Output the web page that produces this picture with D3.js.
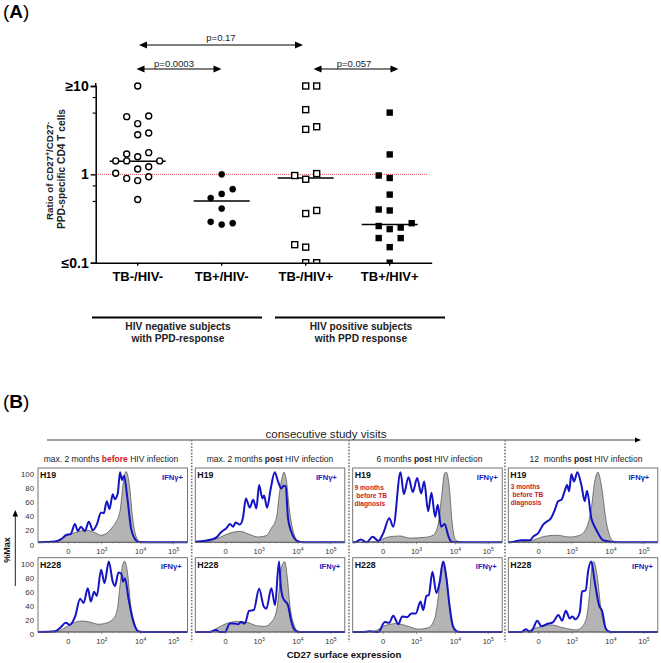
<!DOCTYPE html>
<html>
<head>
<meta charset="utf-8">
<title>CD27 ratio and histograms</title>
<script src="https://cdnjs.cloudflare.com/ajax/libs/d3/7.8.5/d3.min.js"></script>
<style>
  html, body { margin: 0; padding: 0; background: #fff; }
  svg { display: block; font-family: "Liberation Sans", Arial, sans-serif; }
</style>
</head>
<body>
<svg id="chart" width="661" height="663"></svg>
<script>
// Panel A values
var groupNames = ['TB-/HIV-', 'TB+/HIV-', 'TB-/HIV+', 'TB+/HIV+']
var ratioTicks = [0.1, 1, 10]
var ratioTickLabels = ['≤0.1', '1', '≥10']
var ratioMinorTicks = [0.5, 0.75, 5, 7.5]

var tbNegHivNegValues = [10, 4.5, 4.57, 3.75, 2.81, 2.94, 1.7, 1.58, 1.76, 1.42, 1.42, 1.42, 1.22, 1.15, 1.03, 0.9, 0.94, 0.85, 0.52]
var tbNegHivNegSlots = [0, -1, 1, 0, 0, 1, -1, 0, 1, -2, -1, 2, 1, 0, -2, -1, 1, 0, 0]
var tbPosHivNegValues = [1, 0.68, 0.6, 0.54, 0.41, 0.29, 0.27, 0.28]
var tbPosHivNegSlots = [0, 1, 0, -1, 0, -1, 0, 1]
var tbNegHivPosValues = [10, 10, 5.4, 3.46, 3.23, 0.97, 1.02, 0.88, 0.39, 0.36, 0.16, 0.15, 0.1, 0.1]
var tbNegHivPosSlots = [0, 1, 0, 1, 0, -1, 1, 0, 1, 0, -1, 0, 0, 1]
var tbPosHivPosValues = [5, 1.68, 0.97, 0.91, 0.59, 0.4, 0.39, 0.28, 0.26, 0.24, 0.25, 0.19, 0.19, 0.15, 0.1]
var tbPosHivPosSlots = [0, 0, -1, 0, 0, -1, 0, 2, -1, 0, 1, -1, 1, 0, 0]
var groupMedians = [1.41, 0.5, 0.91, 0.27]

// Panel B histograms: [channel, % of max], channels run 0-150 along the axis
var visitTitles = [
  [['max. 2 months ', 'normal', '#222'], ['before', 'bold', '#c8202c'], [' HIV infection', 'normal', '#222']],
  [['max. 2 months ', 'normal', '#222'], ['post', 'bold', '#222'], [' HIV infection', 'normal', '#222']],
  [['6 months ', 'normal', '#222'], ['post', 'bold', '#222'], [' HIV infection', 'normal', '#222']],
  [['12  months ', 'normal', '#222'], ['post', 'bold', '#222'], [' HIV infection', 'normal', '#222']]
]
var percentTicks = [0, 20, 40, 60, 80, 100]
var channelTicks = [30, 63.5, 102.5, 135.5]
var channelTickLabels = [['0', ''], ['10', '3'], ['10', '4'], ['10', '5']]
var channelMinorTicks = [10, 15, 20, 24, 36, 41, 45, 48, 51, 53, 55, 57, 59, 61, 74, 81, 86, 90, 93, 96, 98, 100, 113, 120, 125, 128, 130, 132, 133, 134]

var grayH19V1 = [[0,0],[10,0],[17,1],[22,4],[28,9],[38,14],[49,17],[58,13],[63,10],[68,12],[75,22],[78.3,29],[82.3,44],[85.7,86],[88.3,100],[91.7,81],[95,34],[98,10],[102,1],[110,0]]
var blueH19V1 = [[0,0],[17,1],[23,4],[28,10],[33,12],[37,26],[40,16],[43,22],[47,16],[51,29],[55,17],[59,25],[63.3,42],[66,41],[69,58],[71.7,47],[75,68],[77,61],[80,69],[82.3,99],[84.3,88],[86.3,94],[89.7,62],[93.3,20],[96.7,6],[100,1],[105,0],[150,0]]
var grayH228V1 = [[0,0],[17,0],[25.7,5],[34,12],[44,15.5],[52,14],[60.7,11],[67,12],[75.7,19],[79.7,33],[82.3,66],[85,95],[87,100],[89.7,85],[93,38],[96.3,15],[100.7,1],[110,0]]
var blueH228V1 = [[0,0],[17,1],[22.3,6],[28,13],[31.7,10],[37.3,22],[42.3,47],[45.7,41],[50,62],[53,43],[56.3,57],[59,51],[63.3,88],[66.7,69],[71,99.5],[75,71],[77.3,65],[80.7,84],[83.7,82],[85.3,71],[87.3,76],[90.7,48],[94,24],[97.3,8],[100.7,1],[105,0],[150,0]]

var grayH19V2 = [[0,0],[11,1],[21.3,5],[34.7,13],[45,15.5],[54.7,11],[63,7.5],[71.3,9.5],[76.3,20],[81.3,34],[84.7,72],[87.3,93],[89,99],[91.3,88],[94.7,43],[98,17],[103,2],[110,0]]
var blueH19V2 = [[0,0],[1.3,1],[8,2],[16.3,4],[21.3,7],[26.3,15],[31.3,20],[34.7,26],[38,22],[40.3,28],[44.7,25],[48,36],[50.7,62],[54.7,49],[58,60],[61.3,48],[64,81],[67.3,62],[69,66],[72,49],[75.7,76],[79.7,99],[83,86],[86.3,76],[88.7,80],[90.7,79],[93,34],[96.3,15],[99.7,5],[103.7,1],[108,0],[150,0]]
var grayH228V2 = [[0,0],[16,1],[21.3,5],[31.3,12],[43,15],[51.3,14],[61.3,9],[69.7,8],[76.3,14],[81.3,29],[84,57],[86.3,90],[89.7,99.5],[92,81],[95.3,33],[98.7,12],[103,1],[110,0]]
var blueH228V2 = [[0,0],[14.7,0],[20.7,3],[24.7,0],[29.7,0],[34.7,12],[38.8,12],[43,11],[46,14],[49.7,12],[54,30],[58.7,31],[64,61],[68.7,36],[71.3,33],[76.3,62],[80,38],[84,99.5],[85.7,66],[88,48],[93,38],[96.3,15],[99.7,3],[103,0.5],[108,0],[150,0]]

var grayH19V3 = [[0,0],[24,1],[34,7],[47.3,9],[57.3,6],[72.3,7],[80.7,10],[85.7,25],[89,62],[92.3,98],[94,99],[96.7,81],[100,25],[103.3,3],[110,0]]
var blueH19V3 = [[0,0],[2.3,0],[8,4],[14,0],[20,8],[25.7,2],[30.7,13],[36.7,34],[40.7,22],[48,99],[51.3,68],[56,92],[60.3,71],[64.7,91],[68.7,69],[71.7,86],[75.7,44],[79,70],[82.7,36],[85.3,53],[88.7,22],[92.3,26],[95.7,10],[99,1],[104,0],[150,0]]
var grayH228V3 = [[0,0],[20.7,1],[32.3,9],[44,12],[55.7,8],[65.7,4],[75.7,6],[82.3,19],[85.7,48],[89,90],[91.3,99.5],[94,81],[97.3,33],[100.7,5],[104,0],[110,0]]
var blueH228V3 = [[0,0],[10,0],[16.7,1],[25.7,0],[32.3,14],[36.7,13],[40.7,23],[45.7,11],[49.7,22],[54.7,21],[59,26],[63.3,26],[68,43],[70.7,31],[74,51],[76.3,52],[80,85],[84,55],[87.3,71],[90.7,99.5],[94,76],[97.3,36],[100.7,8],[105.7,0.5],[110,0],[150,0]]

var grayH19V4 = [[0,0],[21.7,2],[35,8],[48.3,10],[61.7,7.5],[71.7,10],[78.3,20],[83.3,48],[86.7,86],[90,99],[93.3,81],[98.3,29],[105,2],[112,0]]
var blueH19V4 = [[0,0],[2,0],[13.3,3],[21.7,3],[25,8],[30,13],[35,25],[38.3,29],[42.3,33],[46.7,46],[50,58],[53.3,60],[56.7,73],[59,81],[61,72],[63.3,96],[66,86],[69.3,99],[73.3,81],[76.7,58],[79,73],[83.3,34],[86.7,22],[90,13],[95,3],[101.7,1],[106,0],[150,0]]
var grayH228V4 = [[0,0],[18,1],[28.3,6],[43.3,10],[55,6],[68.3,3],[75,9],[79,24],[81.7,57],[84.3,97],[85.7,99.5],[89,81],[93.3,29],[96.7,8],[101.7,0.5],[108,0]]
var blueH228V4 = [[0,0],[13.3,0],[17.7,4],[21.7,0],[25,5],[29,16],[33.3,8],[38.3,11],[45,14],[50.3,24],[54,16],[57.7,30],[61.7,19],[64.3,22],[67.3,18],[71.7,28],[74,57],[77.7,59],[80,85],[83.3,99.5],[86.7,71],[91,38],[94.3,29],[97.7,5],[101.7,0.5],[106,0],[150,0]]

var svg = d3.select('#chart')

function panelLetter(letter, y) {
  var t = svg.append('text').attr('x', 3).attr('y', y).attr('font-size', 19).attr('fill', '#000')
  t.append('tspan').text('(')
  t.append('tspan').attr('font-weight', 'bold').text(letter)
  t.append('tspan').text(')')
}

panelLetter('A', 18)
panelLetter('B', 408)

// ---- panel A ----
var xGroup = d3.scaleBand().domain(groupNames).range([95.7, 431.7])
var yRatio = d3.scaleLog().domain([0.1, 10]).range([262.7, 86])
var xSlot = d3.scaleLinear().domain([-2, 2]).range([-22, 22])
var groupCenter = function(name) { return xGroup(name) + xGroup.bandwidth() / 2 }

svg.append('defs').append('clipPath').attr('id', 'plotClip')
  .append('rect').attr('x', 90).attr('y', 70).attr('width', 350).attr('height', yRatio(0.1) - 70)

svg.append('line')
  .attr('x1', 96).attr('x2', 428)
  .attr('y1', yRatio(1)).attr('y2', yRatio(1))
  .attr('stroke', '#d8242c').attr('stroke-width', 0.8).attr('stroke-dasharray', '1 1')

groupNames.forEach(function(name, i) {
  svg.append('line')
    .attr('x1', groupCenter(name) - 28).attr('x2', groupCenter(name) + 28)
    .attr('y1', yRatio(groupMedians[i])).attr('y2', yRatio(groupMedians[i]))
    .attr('stroke', '#000').attr('stroke-width', 1.5)
})

var markers = svg.append('g').attr('clip-path', 'url(#plotClip)')

function drawDots(name, values, slots, open) {
  markers.selectAll(null).data(values).enter().append('circle')
    .attr('cx', function(d, i) { return groupCenter(name) + xSlot(slots[i]) })
    .attr('cy', function(d) { return yRatio(d) })
    .attr('r', open ? 3 : 3.1)
    .attr('fill', open ? '#fff' : '#000')
    .attr('stroke', '#000')
    .attr('stroke-width', open ? 1.4 : 0.4)
}

function drawSquares(name, values, slots, open) {
  var side = open ? 6 : 6.4
  markers.selectAll(null).data(values).enter().append('rect')
    .attr('x', function(d, i) { return groupCenter(name) + xSlot(slots[i]) - side / 2 })
    .attr('y', function(d) { return yRatio(d) - side / 2 })
    .attr('width', side)
    .attr('height', side)
    .attr('fill', open ? '#fff' : '#000')
    .attr('stroke', '#000')
    .attr('stroke-width', open ? 1.4 : 0)
}

drawDots(groupNames[0], tbNegHivNegValues, tbNegHivNegSlots, true)
drawDots(groupNames[1], tbPosHivNegValues, tbPosHivNegSlots, false)
drawSquares(groupNames[2], tbNegHivPosValues, tbNegHivPosSlots, true)
drawSquares(groupNames[3], tbPosHivPosValues, tbPosHivPosSlots, false)

var yAxis = svg.append('g').attr('transform', 'translate(95.7,0)')
  .call(d3.axisLeft(yRatio).tickValues(ratioTicks).tickSize(5).tickPadding(2)
    .tickFormat(function(d, i) { return ratioTickLabels[i] }))
yAxis.selectAll('text').attr('font-size', 14).attr('font-weight', 'bold').attr('fill', '#000')
  .attr('font-family', '"Liberation Sans", Arial, sans-serif')
yAxis.selectAll('line').attr('stroke-width', 1.4)
yAxis.select('.domain').attr('stroke-width', 1.5)

var yMinor = svg.append('g').attr('transform', 'translate(95.7,0)')
  .call(d3.axisLeft(yRatio).tickValues(ratioMinorTicks).tickSize(3).tickFormat(''))
yMinor.selectAll('line').attr('stroke-width', 1.2)
yMinor.select('.domain').remove()

svg.append('line').attr('x1', 95.7).attr('x2', 95.7)
  .attr('y1', yRatio(10) - 3).attr('y2', yRatio(10))
  .attr('stroke', '#000').attr('stroke-width', 1.5)

var xAxis = svg.append('g').attr('transform', 'translate(0,' + yRatio(0.1) + ')')
  .call(d3.axisBottom(xGroup).tickSize(3).tickSizeOuter(0).tickPadding(6))
xAxis.selectAll('text').attr('font-size', 13).attr('font-weight', 'bold').attr('fill', '#000')
  .attr('font-family', '"Liberation Sans", Arial, sans-serif')
xAxis.selectAll('line').attr('stroke-width', 1.4)
xAxis.select('.domain').attr('stroke-width', 1.5)

var yTitle = svg.append('text')
  .attr('transform', 'translate(52.5,171) rotate(-90)')
  .attr('text-anchor', 'middle').attr('font-size', 9.8).attr('font-weight', 'bold').attr('fill', '#222')
yTitle.append('tspan').text('Ratio of CD27')
yTitle.append('tspan').attr('font-size', 6.5).attr('dy', -3).text('+')
yTitle.append('tspan').attr('dy', 3).text('/CD27')
yTitle.append('tspan').attr('font-size', 6.5).attr('dy', -3).text('-')
svg.append('text')
  .attr('transform', 'translate(65,169) rotate(-90)')
  .attr('text-anchor', 'middle').attr('font-size', 10.2).attr('font-weight', 'bold').attr('fill', '#222')
  .text('PPD-specific CD4 T cells')

// comparison arrows
function arrowHead(x, y, dir) {
  svg.append('path')
    .attr('d', 'M' + x + ',' + y + 'l' + (dir * 8) + ',-3.6v7.2z')
    .attr('fill', '#000')
}

function compareArrow(x1, x2, y, label, labelX, labelY) {
  svg.append('line').attr('x1', x1 + 3).attr('x2', x2 - 3).attr('y1', y).attr('y2', y)
    .attr('stroke', '#000').attr('stroke-width', 1.1)
  arrowHead(x1, y, 1)
  arrowHead(x2, y, -1)
  svg.append('text').attr('x', labelX).attr('y', labelY).attr('text-anchor', 'middle')
    .attr('font-size', 9.5).attr('fill', '#222').text(label)
}

compareArrow(139, 303, 45, 'p=0.17', 221, 40.5)
compareArrow(136.5, 221.5, 69, 'p=0.0003', 174, 67)
compareArrow(313.5, 398.5, 69, 'p=0.057', 354, 67)

function groupBar(x1, x2, line1, line2) {
  svg.append('line').attr('x1', x1).attr('x2', x2).attr('y1', 317.5).attr('y2', 317.5)
    .attr('stroke', '#000').attr('stroke-width', 2)
  var cx = (x1 + x2) / 2 + 1
  svg.append('text').attr('x', cx).attr('y', 330).attr('text-anchor', 'middle')
    .attr('font-size', 10.2).attr('font-weight', 'bold').attr('fill', '#222').text(line1)
  svg.append('text').attr('x', cx).attr('y', 342).attr('text-anchor', 'middle')
    .attr('font-size', 10.2).attr('font-weight', 'bold').attr('fill', '#222').text(line2)
}

groupBar(92, 262, 'HIV negative subjects', 'with PPD-response')
groupBar(275, 445, 'HIV positive subjects', 'with PPD response')

// ---- panel B ----
svg.append('text').attr('x', 326).attr('y', 437.5).attr('text-anchor', 'middle')
  .attr('font-size', 11.6).attr('fill', '#222').text('consecutive study visits')
svg.append('line').attr('x1', 47).attr('x2', 636).attr('y1', 440).attr('y2', 440)
  .attr('stroke', '#444').attr('stroke-width', 1)
svg.append('path').attr('d', 'M641,440l-6,-2.6v5.2z').attr('fill', '#000')

var visitSeparators = [191.7, 349, 505]
visitSeparators.forEach(function(x) {
  svg.append('line').attr('x1', x).attr('x2', x).attr('y1', 440).attr('y2', 642)
    .attr('stroke', '#777').attr('stroke-width', 1.6).attr('stroke-dasharray', '1.6 1.6')
})

var visitCenters = [111, 270, 429.5, 586]
visitTitles.forEach(function(parts, i) {
  var t = svg.append('text').attr('x', visitCenters[i]).attr('y', 461.7)
    .attr('text-anchor', 'middle').attr('font-size', 8.5)
  parts.forEach(function(p) {
    t.append('tspan').attr('font-weight', p[1]).attr('fill', p[2]).style('white-space', 'pre').text(p[0])
  })
})

var panelLefts = [38, 195.3, 352.7, 508.3]
var panelTops = [468, 557.7]
var subjects = ['H19', 'H228']
var grayRows = [[grayH19V1, grayH19V2, grayH19V3, grayH19V4], [grayH228V1, grayH228V2, grayH228V3, grayH228V4]]
var blueRows = [[blueH19V1, blueH19V2, blueH19V3, blueH19V4], [blueH228V1, blueH228V2, blueH228V3, blueH228V4]]
var ifnRight = [[145, 141.5, 145, 141], [143.7, 145, 144, 144.7]]

var panelW = 149.5
var panelH = 74.3
var xChannel = d3.scaleLinear().domain([0, 150]).range([0, panelW])
var yPercent = d3.scaleLinear().domain([0, 105]).range([panelH, 0])

var histArea = d3.area()
  .x(function(d) { return xChannel(d[0]) })
  .y0(panelH)
  .y1(function(d) { return yPercent(d[1]) })
  .curve(d3.curveMonotoneX)
var histLine = d3.line()
  .x(function(d) { return xChannel(d[0]) })
  .y(function(d) { return yPercent(d[1]) })
  .curve(d3.curveMonotoneX)

panelTops.forEach(function(top, r) {
  panelLefts.forEach(function(left, c) {
    var g = svg.append('g').attr('transform', 'translate(' + left + ',' + top + ')')

    g.append('path').datum(grayRows[r][c]).attr('d', histArea)
      .attr('fill', '#b4b4b4').attr('stroke', '#333').attr('stroke-width', 0.6)
    g.append('path').datum(blueRows[r][c]).attr('d', histLine)
      .attr('fill', 'none').attr('stroke', '#1414c4').attr('stroke-width', 2)
    g.append('rect').attr('width', panelW).attr('height', panelH)
      .attr('fill', 'none').attr('stroke', '#666').attr('stroke-width', 0.9)

    var axis = g.append('g').attr('transform', 'translate(0,' + panelH + ')')
      .call(d3.axisBottom(xChannel).tickValues(channelTicks).tickSize(2).tickPadding(3).tickFormat(''))
    axis.select('.domain').remove()
    axis.selectAll('line').attr('stroke', '#444').attr('stroke-width', 0.5)
    axis.selectAll('text').each(function(d, i) {
      var t = d3.select(this).attr('font-size', 7.6).attr('fill', '#333')
        .attr('font-family', '"Liberation Sans", Arial, sans-serif').attr('dy', 6.5)
      t.append('tspan').text(channelTickLabels[i][0])
      if (channelTickLabels[i][1]) {
        t.append('tspan').attr('font-size', 5).attr('dy', -2.6).text(channelTickLabels[i][1])
      }
    })
    var minor = g.append('g').attr('transform', 'translate(0,' + panelH + ')')
      .call(d3.axisBottom(xChannel).tickValues(channelMinorTicks).tickSize(1.3).tickFormat(''))
    minor.select('.domain').remove()
    minor.selectAll('line').attr('stroke', '#666').attr('stroke-width', 0.4)

    if (c === 0) {
      var left0 = g.append('g')
        .call(d3.axisLeft(yPercent).tickValues(percentTicks).tickSize(0).tickPadding(4))
      left0.select('.domain').remove()
      left0.selectAll('text').attr('font-size', 7.8).attr('fill', '#333').attr('dy', '0.62em')
        .attr('font-family', '"Liberation Sans", Arial, sans-serif')
    }

    g.append('text').attr('x', 2).attr('y', 10).attr('font-size', 8.8).attr('font-weight', 'bold')
      .attr('fill', '#111').text(subjects[r])
    g.append('text').attr('x', ifnRight[r][c]).attr('y', 11.5).attr('text-anchor', 'end')
      .attr('font-size', 7.6).attr('font-weight', 'bold').attr('fill', '#2020c0').text('IFNγ+')
  })
})

function redNote(x, y, lines) {
  lines.forEach(function(line, i) {
    svg.append('text').attr('x', x).attr('y', y + i * 8).attr('font-size', 6.6).attr('font-weight', 'bold')
      .attr('fill', '#c8202c').style('white-space', 'pre').text(line)
  })
}

redNote(354.5, 489.5, ['9 months', ' before TB', 'diagnosis'])
redNote(510.7, 488.5, ['3 months', ' before TB', 'diagnosis'])

svg.append('text').attr('x', 344).attr('y', 658).attr('text-anchor', 'middle')
  .attr('font-size', 9.6).attr('font-weight', 'bold').attr('fill', '#111').text('CD27 surface expression')
svg.append('text').attr('transform', 'translate(10,550) rotate(-90)').attr('text-anchor', 'middle')
  .attr('font-size', 9).attr('font-weight', 'bold').attr('fill', '#111').text('%Max')
svg.append('line').attr('x1', 15.3).attr('x2', 15.3).attr('y1', 586).attr('y2', 514)
  .attr('stroke', '#222').attr('stroke-width', 1)
svg.append('path').attr('d', 'M15.3,510l-2.8,6.5h5.6z').attr('fill', '#000')
</script>
</body>
</html>
